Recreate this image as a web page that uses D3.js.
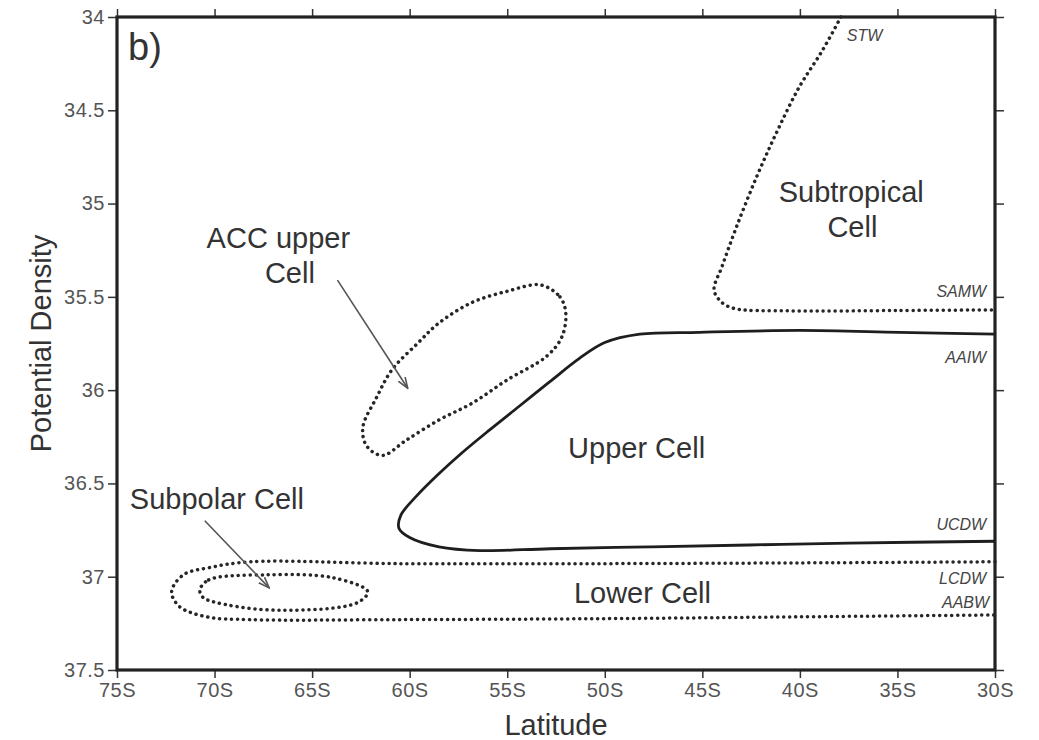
<!DOCTYPE html>
<html>
<head>
<meta charset="utf-8">
<script src="https://cdn.jsdelivr.net/npm/d3@7"></script>
<style>
	body { margin: 0; background: #fff; }
	svg { display: block; font-family: 'Liberation Sans', Arial, sans-serif; }
	.tick-label { fill: #555; font-size: 20px; letter-spacing: 0.5px; }
	.axis-title { fill: #333; font-size: 29px; }
	.cell-label { fill: #333; font-size: 29px; }
	.water-label { fill: #444; font-size: 16px; font-style: italic; }
</style>
</head>
<body>
<div id="chart"></div>
<script>
// axes
var latTicks = [75, 70, 65, 60, 55, 50, 45, 40, 35, 30];
var densTicks = [34, 34.5, 35, 35.5, 36, 36.5, 37, 37.5];

// contours, [latitude S, potential density]
var subtropicalCell = [[37.9, 34.0], [38.85, 34.18], [40.03, 34.375], [41.2, 34.62], [42.23, 34.86], [43.25, 35.125],
	[44.0, 35.34], [44.4, 35.46], [44.1, 35.52], [43.45, 35.56], [40.5, 35.575], [35, 35.573], [30, 35.57]];
var upperCell = [[30, 35.70], [34.9, 35.69], [40.0, 35.68], [45.15, 35.69], [48.2, 35.70], [50.0, 35.745], [51.3, 35.83],
	[52.83, 35.956], [54.37, 36.085], [55.9, 36.213], [57.33, 36.337], [58.56, 36.454], [59.64, 36.567], [60.45, 36.67],
	[60.55, 36.74], [60.0, 36.79], [58.5, 36.84], [56.4, 36.86], [52.8, 36.85], [47.7, 36.84], [42.6, 36.83], [37.5, 36.82], [30, 36.81]];
var lowerCell = [[30, 36.92], [40.0, 36.926], [50.3, 36.93], [60.5, 36.93], [68.2, 36.92], [70.2, 36.95], [71.6, 36.99],
	[72.2, 37.08], [71.8, 37.16], [70.4, 37.215], [68.2, 37.23], [60.5, 37.23], [50.3, 37.225], [40.0, 37.215], [30, 37.205]];
var subpolarCell = [[70.75, 37.07], [70.3, 37.017], [67.3, 36.99], [63.9, 37.006], [62.15, 37.08], [62.7, 37.14],
	[66.5, 37.18], [69.4, 37.15], [70.6, 37.11]];
var accUpperCell = [[53.3, 35.436], [52.3, 35.50], [52.0, 35.586], [52.2, 35.715], [53.0, 35.82], [55.0, 35.945],
	[56.8, 36.07], [58.5, 36.16], [60.2, 36.27], [61.4, 36.35], [62.2, 36.30], [62.4, 36.20], [61.7, 36.04], [60.9, 35.89],
	[59.6, 35.75], [58.5, 35.64], [56.8, 35.53], [55.0, 35.47]];

// labels, [text, latitude, density]
var cellLabels = [['ACC upper', 66.73, 35.238], ['Cell', 66.14, 35.425], ['Subtropical', 37.37, 34.99], ['Cell', 37.31, 35.18],
	['Upper Cell', 48.37, 36.363], ['Lower Cell', 48.07, 37.14], ['Subpolar Cell', 69.88, 36.637]];
var waterLabels = [['SAMW', 30.45, 35.50], ['AAIW', 30.45, 35.855], ['UCDW', 30.45, 36.75], ['LCDW', 30.45, 37.04], ['AABW', 30.3, 37.17]];
var stwLabel = ['STW', 37.6, 34.13];
var arrows = [[[63.7, 35.41], [60.1, 35.99]], [[70.5, 36.70], [67.2, 37.06]]];

function renderChart(target) {
	'use strict';

	var width = 1039, height = 740;
	var x = d3.scaleLinear().domain([75, 30]).range([117, 995]);
	var y = d3.scaleLinear().domain([34, 37.5]).range([17, 670]);

	var svg = d3.select(target)
		.append('svg')
		.attr('width', width)
		.attr('height', height);

	svg.append('defs')
		.append('marker')
		.attr('id', 'arrow-head')
		.attr('viewBox', '0 0 12 10')
		.attr('refX', 11)
		.attr('refY', 5)
		.attr('markerWidth', 12)
		.attr('markerHeight', 10)
		.attr('markerUnits', 'userSpaceOnUse')
		.attr('orient', 'auto')
		.append('path')
		.attr('d', 'M0,1 L11,5 L0,9')
		.attr('fill', 'none')
		.attr('stroke', '#555')
		.attr('stroke-width', 1.6);

	function styleAxis(g) {
		g.select('.domain').remove();
		g.selectAll('.tick line').attr('stroke', '#333').attr('stroke-width', 1.5);
		g.selectAll('.tick text').attr('class', 'tick-label').attr('font-family', null).attr('font-size', null).attr('fill', null);
	}

	svg.append('g')
		.attr('transform', 'translate(0,' + y(37.5) + ')')
		.call(d3.axisBottom(x).tickValues(latTicks).tickFormat(function(d) { return d + 'S'; }).tickSize(8).tickPadding(5))
		.call(styleAxis);
	svg.append('g')
		.attr('transform', 'translate(0,' + y(34) + ')')
		.call(d3.axisTop(x).tickValues(latTicks).tickFormat('').tickSize(8))
		.call(styleAxis);
	svg.append('g')
		.attr('transform', 'translate(' + x(75) + ',0)')
		.call(d3.axisLeft(y).tickValues(densTicks).tickFormat(d3.format('')).tickSize(9).tickPadding(3))
		.call(styleAxis);
	svg.append('g')
		.attr('transform', 'translate(' + x(30) + ',0)')
		.call(d3.axisRight(y).tickValues(densTicks).tickFormat('').tickSize(9))
		.call(styleAxis);

	svg.append('rect')
		.attr('x', x(75))
		.attr('y', y(34))
		.attr('width', x(30) - x(75))
		.attr('height', y(37.5) - y(34))
		.attr('fill', 'none')
		.attr('stroke', '#222')
		.attr('stroke-width', 3.2);

	var line = d3.line()
		.x(function(d) { return x(d[0]); })
		.y(function(d) { return y(d[1]); })
		.curve(d3.curveCatmullRom.alpha(0.5));
	var closedLine = d3.line()
		.x(function(d) { return x(d[0]); })
		.y(function(d) { return y(d[1]); })
		.curve(d3.curveCatmullRomClosed.alpha(0.5));

	var dotted = [[subtropicalCell, line], [lowerCell, line], [subpolarCell, closedLine], [accUpperCell, closedLine]];
	dotted.forEach(function(c) {
		svg.append('path')
			.attr('d', c[1](c[0]))
			.attr('fill', 'none')
			.attr('stroke', '#262626')
			.attr('stroke-width', 3.5)
			.attr('stroke-linecap', 'round')
			.attr('stroke-dasharray', '0.1 5.9');
	});

	svg.append('path')
		.attr('d', line(upperCell))
		.attr('fill', 'none')
		.attr('stroke', '#1e1e1e')
		.attr('stroke-width', 2.8);

	svg.selectAll('line.arrow')
		.data(arrows)
		.enter()
		.append('line')
		.attr('class', 'arrow')
		.attr('x1', function(d) { return x(d[0][0]); })
		.attr('y1', function(d) { return y(d[0][1]); })
		.attr('x2', function(d) { return x(d[1][0]); })
		.attr('y2', function(d) { return y(d[1][1]); })
		.attr('stroke', '#555')
		.attr('stroke-width', 1.6)
		.attr('marker-end', 'url(#arrow-head)');

	svg.selectAll('text.cell-label')
		.data(cellLabels)
		.enter()
		.append('text')
		.attr('class', 'cell-label')
		.attr('x', function(d) { return x(d[1]); })
		.attr('y', function(d) { return y(d[2]); })
		.attr('text-anchor', 'middle')
		.text(function(d) { return d[0]; });

	svg.selectAll('text.water-label')
		.data(waterLabels)
		.enter()
		.append('text')
		.attr('class', 'water-label')
		.attr('x', function(d) { return x(d[1]); })
		.attr('y', function(d) { return y(d[2]); })
		.attr('text-anchor', 'end')
		.text(function(d) { return d[0]; });

	svg.append('text')
		.attr('class', 'water-label')
		.attr('x', x(stwLabel[1]))
		.attr('y', y(stwLabel[2]))
		.text(stwLabel[0]);

	svg.append('text')
		.attr('x', x(74.43))
		.attr('y', y(34.23))
		.attr('fill', '#333')
		.attr('font-size', 38)
		.text('b)');

	svg.append('text')
		.attr('class', 'axis-title')
		.attr('x', (x(75) + x(30)) / 2)
		.attr('y', 735)
		.attr('text-anchor', 'middle')
		.text('Latitude');

	svg.append('text')
		.attr('class', 'axis-title')
		.attr('transform', 'translate(51,' + (y(34) + y(37.5)) / 2 + ') rotate(-90)')
		.attr('text-anchor', 'middle')
		.text('Potential Density');
}

renderChart(document.getElementById('chart'));
</script>
</body>
</html>
